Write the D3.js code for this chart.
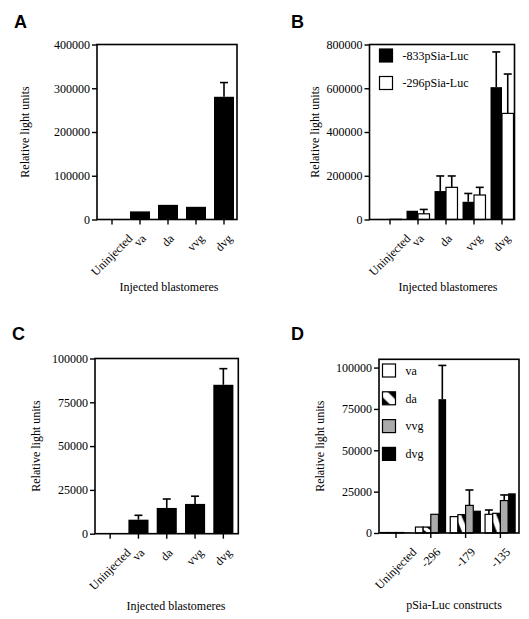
<!DOCTYPE html>
<html><head><meta charset="utf-8">
<script src="https://cdn.jsdelivr.net/npm/d3@7"></script>
<style>
body{margin:0;background:#fff;}
svg text{font-family:"Liberation Serif","Times New Roman",serif;fill:#000;}
</style></head>
<body><svg id="c" width="529" height="619"></svg>
<script>
// ---------- data ----------
const catsABC = ["Uninjected", "va", "da", "vvg", "dvg"];
const aMean = [500, 18500, 33500, 29000, 280500];
const aErr  = [null, null, null, null, 313000];
const aTicks = [0, 100000, 200000, 300000, 400000];

const bSeries = ["-833pSia-Luc", "-296pSia-Luc"];
const b833Mean = [1000, 40000, 130000, 81000, 605000];
const b833Err  = [null, null, 199000, 119000, 766000];
const b296Mean = [1000, 26000, 147000, 112000, 485000];
const b296Err  = [null, 46000, 199000, 147000, 665000];
const bTicks = [0, 200000, 400000, 600000, 800000];

const cMean = [400, 8000, 14700, 17000, 85000];
const cErr  = [null, 10500, 19800, 21400, 94200];
const cTicks = [0, 25000, 50000, 75000, 100000];

const catsD = ["Uninjected", "-296", "-179", "-135"];
const dSeries = ["va", "da", "vvg", "dvg"];
const dVaMean  = [300, 3600, 9900, 11300];
const dVaErr   = [null, null, null, 13900];
const dDaMean  = [300, 3600, 11100, 11900];
const dDaErr   = [null, null, null, null];
const dVvgMean = [300, 11300, 16700, 19600];
const dVvgErr  = [null, null, 26000, 23000];
const dDvgMean = [300, 80900, 13500, 24000];
const dDvgErr  = [null, 101300, null, null];
const dTicks = [0, 25000, 50000, 75000, 100000];

// ---------- drawing ----------
const svg = d3.select("#c");
const defs = svg.append("defs");
const pat = defs.append("pattern").attr("id", "hatch")
  .attr("patternUnits", "objectBoundingBox").attr("patternContentUnits", "objectBoundingBox")
  .attr("width", 1).attr("height", 1);
pat.append("rect").attr("width", 1).attr("height", 1).attr("fill", "#000");
pat.append("polygon").attr("points", "0.05,0 0.4,0 1,0.6 1,0.95 0.95,1 0.6,1 0,0.4 0,0.05").attr("fill", "#fff");

function panel(cfg) {
  const g = svg.append("g");
  const y = d3.scaleLinear().domain([0, cfg.yMax]).range([cfg.bottom, cfg.top]);
  const x = d3.scaleBand().domain(cfg.cats).range(cfg.xRange)
    .paddingInner(cfg.padIn).paddingOuter(cfg.padOut);
  const sub = d3.scaleBand().domain(cfg.series.map((s, i) => i)).range([0, x.bandwidth()]);

  // bars
  cfg.series.forEach((s, si) => {
    cfg.cats.forEach((c, ci) => {
      const v = s.mean[ci];
      const bx = x(c) + sub(si);
      const bw = sub.bandwidth();
      g.append("rect").attr("x", bx).attr("y", y(v)).attr("width", bw)
        .attr("height", y(0) - y(v)).attr("fill", s.fill)
        .attr("stroke", s.stroke || "none").attr("stroke-width", 1.2);
      const e = s.err[ci];
      if (e != null) {
        const cx = bx + bw / 2;
        g.append("line").attr("x1", cx).attr("x2", cx).attr("y1", y(v)).attr("y2", y(e))
          .attr("stroke", "#000").attr("stroke-width", 1.6);
        g.append("line").attr("x1", cx - 4).attr("x2", cx + 4).attr("y1", y(e)).attr("y2", y(e))
          .attr("stroke", "#000").attr("stroke-width", 1.6);
      }
    });
  });

  // frame
  g.append("rect").attr("x", cfg.fLeft).attr("y", cfg.top)
    .attr("width", cfg.fRight - cfg.fLeft).attr("height", cfg.bottom - cfg.top)
    .attr("fill", "none").attr("stroke", "#000").attr("stroke-width", 1.6);

  // y axis
  const ya = g.append("g").attr("transform", `translate(${cfg.fLeft},0)`)
    .call(d3.axisLeft(y).tickValues(cfg.ticks).tickFormat(d3.format("d")).tickSize(5).tickPadding(2));
  ya.select(".domain").remove();
  ya.selectAll("line").attr("stroke-width", 1.4);
  ya.selectAll("text").attr("font-size", 12).attr("font-family", "Liberation Serif");

  // x axis ticks
  const xa = g.append("g").attr("transform", `translate(0,${cfg.bottom})`)
    .call(d3.axisBottom(x).tickSize(5).tickFormat(""));
  xa.select(".domain").remove();
  xa.selectAll("line").attr("stroke-width", 1.4);

  // rotated labels
  cfg.cats.forEach(c => {
    const t = g.append("text").attr("font-size", 12).attr("text-anchor", "middle")
      .attr("dy", "0.32em").text(c);
    const L = t.node().getComputedTextLength();
    const cx = x(c) + x.bandwidth() / 2;
    const cy = cfg.bottom + 15 + L * 0.354 + 2;
    t.attr("transform", `translate(${cx},${cy}) rotate(-45)`);
  });

  // axis titles
  g.append("text").attr("font-size", 12).attr("text-anchor", "middle").attr("dy", "0.35em")
    .attr("transform", `translate(${cfg.yLabX},${(cfg.top + cfg.bottom) / 2}) rotate(-90)`)
    .text("Relative light units");
  g.append("text").attr("font-size", 12).attr("text-anchor", "middle")
    .attr("x", cfg.xLabX).attr("y", cfg.xLabY).text(cfg.xTitle);

  // panel letter
  g.append("text").attr("x", cfg.letterX).attr("y", cfg.letterY)
    .attr("font-family", "Liberation Sans, Arial, sans-serif").style("font-family", "Liberation Sans, Arial, sans-serif")
    .attr("font-weight", "bold").attr("font-size", 18).text(cfg.letter);

  // legend
  if (cfg.legend) {
    cfg.series.forEach((s, i) => {
      const ly = cfg.legend.y0 + i * cfg.legend.dy;
      g.append("rect").attr("x", cfg.legend.x).attr("y", ly - 6.5).attr("width", 13).attr("height", 13)
        .attr("fill", s.fill).attr("stroke", "#000").attr("stroke-width", 1.2);
      g.append("text").attr("x", cfg.legend.x + 23).attr("y", ly).attr("dy", "0.35em")
        .attr("font-size", 12).text(s.name);
    });
  }
}

panel({
  letter: "A", letterX: 14, letterY: 28,
  cats: catsABC, yMax: 400000, ticks: aTicks,
  top: 44.5, bottom: 219.5, fLeft: 97, fRight: 237,
  xRange: [98, 238], padIn: 0.286, padOut: 0.143,
  series: [{name: "", mean: aMean, err: aErr, fill: "#000"}],
  yLabX: 25, xLabX: 169, xLabY: 291, xTitle: "Injected blastomeres"
});

panel({
  letter: "B", letterX: 291, letterY: 28,
  cats: catsABC, yMax: 800000, ticks: bTicks,
  top: 44.5, bottom: 219.5, fLeft: 369.5, fRight: 514.5,
  xRange: [376, 516], padIn: 0.18, padOut: 0.09,
  series: [
    {name: bSeries[0], mean: b833Mean, err: b833Err, fill: "#000"},
    {name: bSeries[1], mean: b296Mean, err: b296Err, fill: "#fff", stroke: "#000"}
  ],
  legend: {x: 379.5, y0: 55.5, dy: 27.5},
  yLabX: 315, xLabX: 448, xLabY: 291, xTitle: "Injected blastomeres"
});

panel({
  letter: "C", letterX: 12, letterY: 340,
  cats: catsABC, yMax: 100000, ticks: cTicks,
  top: 358.5, bottom: 533.7, fLeft: 95, fRight: 238.3,
  xRange: [96, 237.5], padIn: 0.29, padOut: 0.145,
  series: [{name: "", mean: cMean, err: cErr, fill: "#000"}],
  yLabX: 36, xLabX: 176, xLabY: 610, xTitle: "Injected blastomeres"
});

panel({
  letter: "D", letterX: 291, letterY: 340,
  cats: catsD, yMax: 105000, ticks: dTicks,
  top: 359.3, bottom: 533, fLeft: 379, fRight: 519,
  xRange: [378.6, 517.8], padIn: 0.118, padOut: 0.059,
  series: [
    {name: dSeries[0], mean: dVaMean, err: dVaErr, fill: "#fff", stroke: "#000"},
    {name: dSeries[1], mean: dDaMean, err: dDaErr, fill: "url(#hatch)", stroke: "#000"},
    {name: dSeries[2], mean: dVvgMean, err: dVvgErr, fill: "#aaaaaa", stroke: "#000"},
    {name: dSeries[3], mean: dDvgMean, err: dDvgErr, fill: "#000"}
  ],
  legend: {x: 382.5, y0: 370.5, dy: 27.8},
  yLabX: 320, xLabX: 454, xLabY: 609, xTitle: "pSia-Luc constructs"
});
</script></body></html>
